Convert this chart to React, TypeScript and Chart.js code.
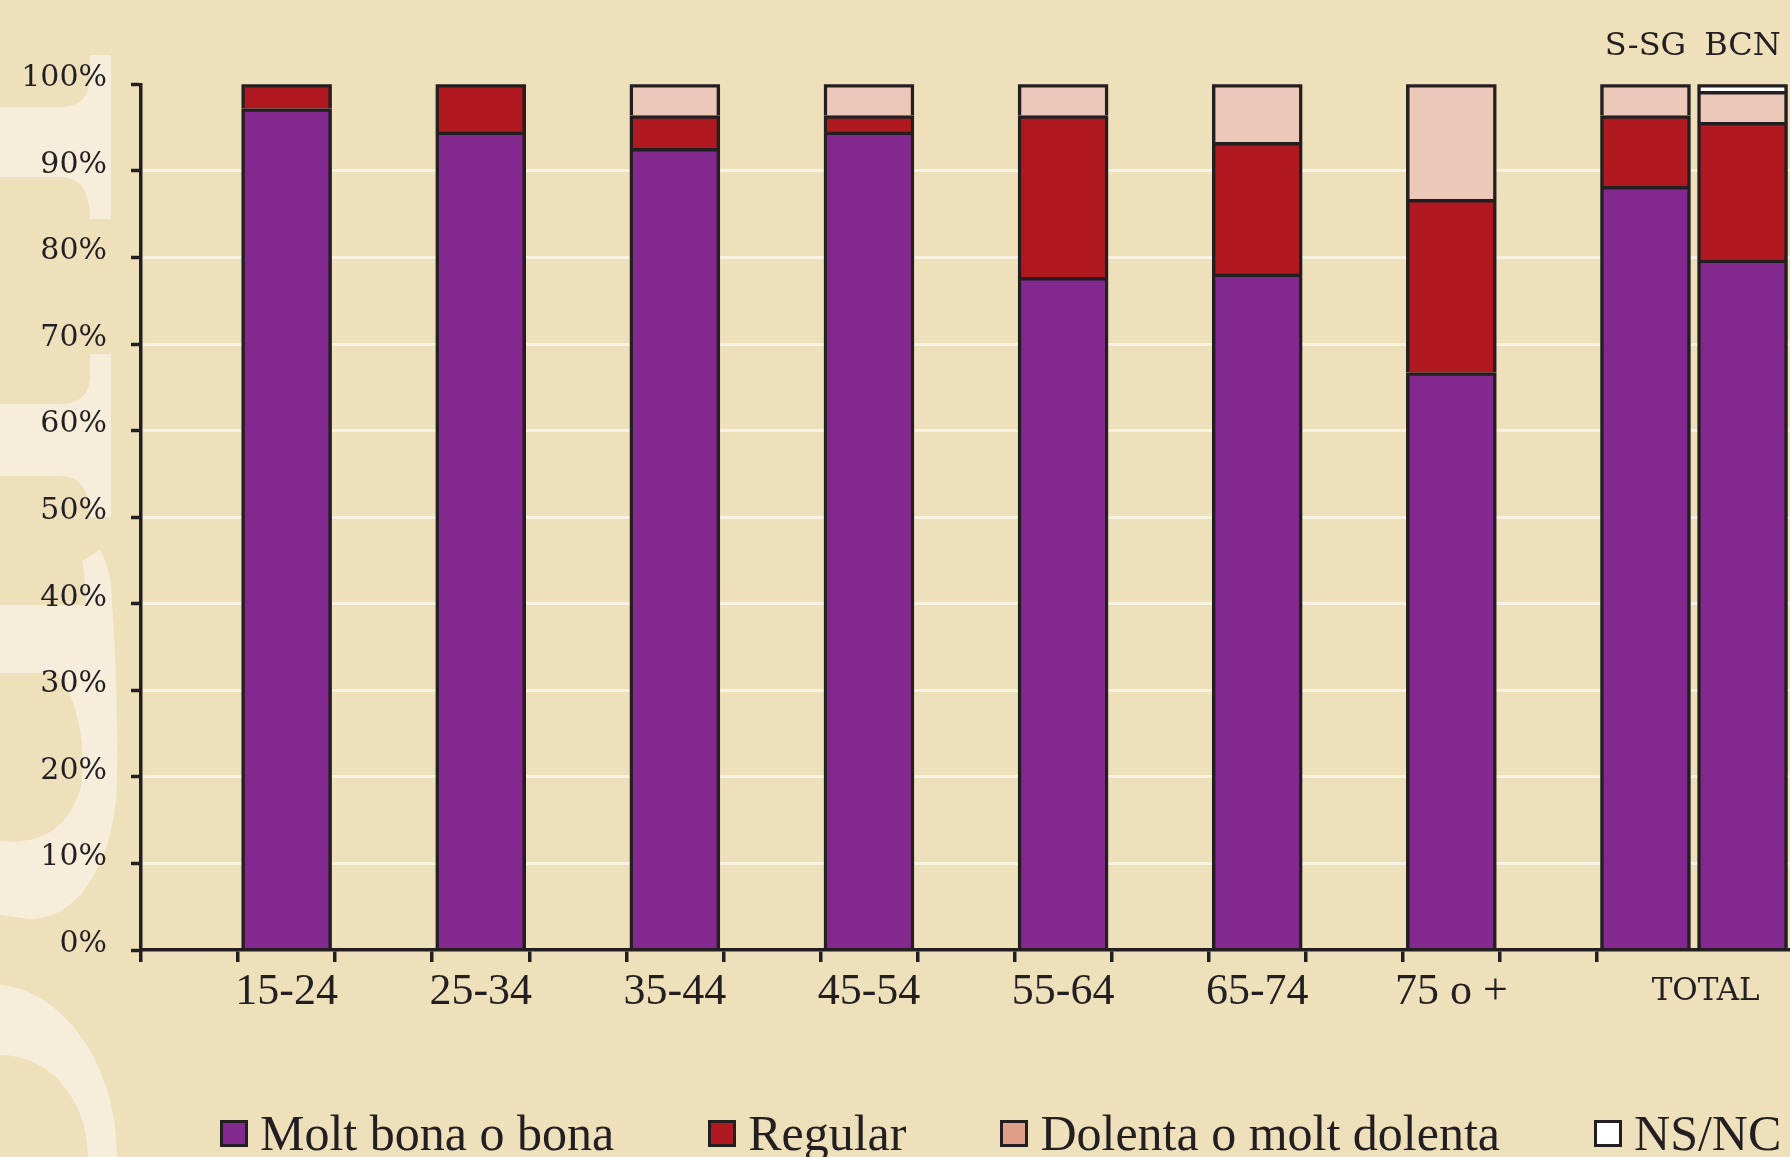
import { useEffect, useRef } from 'react';
import { Chart, registerables } from 'chart.js';

Chart.register(...registerables);

// ---------- data ----------
const ageGroups = ['15-24', '25-34', '35-44', '45-54', '55-64', '65-74', '75 o +'];
const totalGroups = ['S-SG', 'BCN'];
const totalLabel = 'TOTAL';
const seriesNames = ['Molt bona o bona', 'Regular', 'Dolenta o molt dolenta', 'NS/NC'];
const moltBona = [97.2, 94.5, 92.6, 94.5, 77.7, 78.1, 66.7, 88.2, 79.7];
const regular = [2.8, 5.5, 3.8, 1.9, 18.7, 15.2, 20.0, 8.2, 15.9];
const dolenta = [0, 0, 3.6, 3.6, 3.6, 6.7, 13.3, 3.6, 3.6];
const nsnc = [0, 0, 0, 0, 0, 0, 0, 0, 0.8];
const yTickValues = [0, 10, 20, 30, 40, 50, 60, 70, 80, 90, 100];

// ---------- style ----------
const INK = '#231F20';
const BG = '#EFE0BC';
const WATERMARK = '#F6EEDB';
const GRID = '#F8F2E2';
const barFills = ['#82288F', '#B0191F', '#ECC8B8', '#FFFFFF'];
const legendFills = ['#82288F', '#B0191F', '#DFA089', '#FFFFFF'];
const TRANSPARENT = 'rgba(0,0,0,0)';
const LINE = 3.5;

// slot layout on a linear axis: each age group takes 2 units, totals 1 unit each
const AXIS_MAX = 17;
const ageSlot = (i: number) => 2 * i + 1.5;
const totalSlot = (j: number) => 2 * ageGroups.length + 1.5 + j;
const totalLabelPos = totalSlot(0) + 0.62;
const allSlots = [...ageGroups.map((_, i) => ageSlot(i)), ...totalGroups.map((_, j) => totalSlot(j))];
const boundaryTicks = Array.from({ length: 2 * ageGroups.length + 2 }, (_, k) => k);
const xTickValues = [...boundaryTicks, ...ageGroups.map((_, i) => ageSlot(i)), totalLabelPos].sort((a, b) => a - b);
const lastBoundary = boundaryTicks[boundaryTicks.length - 1];

const seriesValues = [moltBona, regular, dolenta, nsnc];

function xLabel(v: number): string {
  if (v === totalLabelPos) return totalLabel;
  const i = ageGroups.findIndex((_, k) => ageSlot(k) === v);
  return i >= 0 ? ageGroups[i] : '';
}

const watermarkPlugin = {
  id: 'paperBackground',
  beforeDraw(chart: any) {
    const ctx = chart.ctx as CanvasRenderingContext2D;
    ctx.save();
    ctx.fillStyle = BG;
    ctx.fillRect(0, 0, chart.width, chart.height);
    ctx.fillStyle = WATERMARK;
    // upper serif arm
    ctx.beginPath();
    ctx.moveTo(0, 107); ctx.lineTo(60, 107); ctx.quadraticCurveTo(90, 107, 90, 76);
    ctx.lineTo(90, 55); ctx.lineTo(111, 55); ctx.lineTo(111, 219); ctx.lineTo(90, 219);
    ctx.quadraticCurveTo(90, 177, 60, 177); ctx.lineTo(0, 177); ctx.closePath(); ctx.fill();
    // second serif arm
    ctx.beginPath();
    ctx.moveTo(0, 404); ctx.lineTo(60, 404); ctx.quadraticCurveTo(90, 404, 90, 375);
    ctx.lineTo(90, 354); ctx.lineTo(111, 354); ctx.lineTo(111, 517); ctx.lineTo(90, 517);
    ctx.quadraticCurveTo(90, 476, 60, 476); ctx.lineTo(0, 476); ctx.closePath(); ctx.fill();
    // bowl
    ctx.beginPath();
    ctx.moveTo(82, 561); ctx.lineTo(100, 550); ctx.quadraticCurveTo(112, 570, 112, 605);
    ctx.bezierCurveTo(116, 660, 118, 720, 117, 782);
    ctx.bezierCurveTo(115, 860, 80, 919, 30, 919);
    ctx.lineTo(0, 915); ctx.lineTo(0, 841);
    ctx.bezierCurveTo(40, 845, 67, 830, 80, 790);
    ctx.bezierCurveTo(88, 760, 80, 700, 57, 673);
    ctx.lineTo(0, 673); ctx.lineTo(0, 605); ctx.lineTo(86, 605);
    ctx.quadraticCurveTo(86, 580, 82, 561); ctx.closePath(); ctx.fill();
    // bottom arc
    ctx.beginPath();
    ctx.moveTo(0, 985); ctx.bezierCurveTo(60, 990, 117, 1060, 117, 1157);
    ctx.lineTo(88, 1157); ctx.bezierCurveTo(88, 1100, 50, 1055, 0, 1055);
    ctx.closePath(); ctx.fill();
    ctx.restore();
  },
};

export default function App() {
  const ref = useRef<HTMLCanvasElement>(null);

  useEffect(() => {
    const canvas = ref.current;
    if (!canvas) return;
    const segBorder = { top: LINE, left: LINE, right: LINE, bottom: 0 };
    const chart = new Chart(canvas, {
      type: 'bar',
      data: {
        datasets: seriesNames.map((name, k) => ({
          label: name,
          data: seriesValues[k].map((v, i) => ({ x: allSlots[i], y: v })),
          backgroundColor: barFills[k],
          borderColor: INK,
          borderWidth: segBorder,
          barThickness: 90,
          xAxisID: 'x',
          yAxisID: 'y',
        })),
      },
      options: {
        responsive: false,
        animation: false,
        devicePixelRatio: 1,
        layout: { padding: { top: 27, left: 11, right: 5.7, bottom: 141 } },
        plugins: { legend: { display: false }, tooltip: { enabled: false } },
        scales: {
          x: {
            type: 'linear',
            position: 'bottom',
            min: 0,
            max: AXIS_MAX,
            stacked: true,
            offset: false,
            afterBuildTicks: (s: any) => {
              s.ticks = xTickValues.map((v) => ({ value: v }));
            },
            afterFit: (s: any) => {
              s.height = 66;
            },
            ticks: {
              autoSkip: false,
              maxRotation: 0,
              minRotation: 0,
              padding: 4,
              color: INK,
              callback: (v: any) => xLabel(Number(v)),
              font: (ctx: any) =>
                ctx.tick && ctx.tick.value === totalLabelPos
                  ? { family: "'DejaVu Serif', serif", size: 31, lineHeight: '52px' }
                  : { family: "'Liberation Serif', serif", size: 44, lineHeight: '52px' },
            },
            grid: {
              display: true,
              drawOnChartArea: false,
              offset: false,
              tickLength: 12,
              lineWidth: LINE,
              tickColor: (ctx: any) =>
                ctx.tick && Number.isInteger(ctx.tick.value) && ctx.tick.value <= lastBoundary ? INK : TRANSPARENT,
            },
            border: { display: true, color: INK, width: LINE, z: 1 },
          },
          x2: {
            type: 'linear',
            position: 'top',
            min: 0,
            max: AXIS_MAX,
            offset: false,
            afterBuildTicks: (s: any) => {
              s.ticks = totalGroups.map((_, j) => ({ value: totalSlot(j) }));
            },
            afterFit: (s: any) => {
              s.height = 57.3;
            },
            ticks: {
              autoSkip: false,
              maxRotation: 0,
              minRotation: 0,
              padding: 19,
              color: INK,
              font: { family: "'DejaVu Serif', serif", size: 32, lineHeight: '38px' },
              callback: (v: any) => {
                const j = totalGroups.findIndex((_, k) => totalSlot(k) === Number(v));
                return j >= 0 ? totalGroups[j] : '';
              },
            },
            grid: { display: false, drawTicks: false },
            border: { display: false },
          },
          y: {
            type: 'linear',
            stacked: true,
            min: 0,
            max: 100,
            afterBuildTicks: (s: any) => {
              s.ticks = yTickValues.map((v) => ({ value: v }));
            },
            afterFit: (s: any) => {
              s.width = 130;
            },
            ticks: {
              padding: 24,
              color: INK,
              labelOffset: -6,
              font: { family: "'DejaVu Serif', serif", size: 30 },
              callback: (v: any) => `${v}%`,
            },
            grid: {
              drawOnChartArea: true,
              lineWidth: 3,
              color: (ctx: any) =>
                ctx.tick && (ctx.tick.value === 0 || ctx.tick.value === 100) ? TRANSPARENT : GRID,
              tickColor: INK,
              tickLength: 10,
              tickWidth: LINE,
            },
            border: { display: true, color: INK, width: LINE, z: 1 },
          },
        },
      },
      plugins: [watermarkPlugin],
    } as any);
    return () => chart.destroy();
  }, []);

  return (
    <div
      style={{
        position: 'fixed',
        left: 0,
        top: 0,
        width: '100vw',
        height: '100vh',
        overflow: 'hidden',
        background: BG,
      }}
    >
      <canvas
        ref={ref}
        width={1800}
        height={1157}
        style={{ position: 'absolute', left: 0, top: 0, width: 1800, height: 1157 }}
      />
      <div
        style={{
          position: 'absolute',
          left: 220,
          top: 1107,
          height: 52,
          display: 'flex',
          alignItems: 'center',
          fontFamily: "'Liberation Serif', serif",
          fontSize: 50,
          lineHeight: '52px',
          color: INK,
          whiteSpace: 'nowrap',
        }}
      >
        {seriesNames.map((name, k) => (
          <div key={name} style={{ display: 'flex', alignItems: 'center', marginRight: 94 }}>
            <span
              style={{
                display: 'inline-block',
                boxSizing: 'border-box',
                width: 28,
                height: 27,
                border: `3px solid ${INK}`,
                background: legendFills[k],
                marginRight: 12,
              }}
            />
            <span>{name}</span>
          </div>
        ))}
      </div>
    </div>
  );
}
